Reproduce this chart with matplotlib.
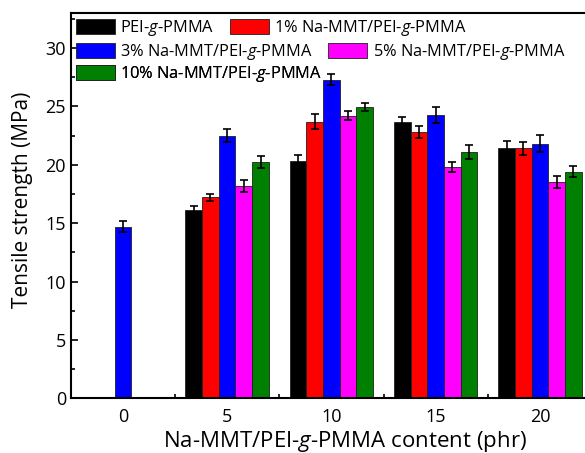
import numpy as np
import matplotlib
matplotlib.use('Agg')
import matplotlib.pyplot as plt
from matplotlib.ticker import MultipleLocator

plt.rcParams['font.family'] = ['Open Sans', 'DejaVu Sans']
plt.rcParams['mathtext.fontset'] = 'custom'
plt.rcParams['mathtext.rm'] = 'Open Sans'
plt.rcParams['mathtext.it'] = 'Open Sans:italic'

## DATA
content = ['0', '5', '10', '15', '20']
series = ['PEI-$g$-PMMA', '1% Na-MMT/PEI-$g$-PMMA', '3% Na-MMT/PEI-$g$-PMMA',
          '5% Na-MMT/PEI-$g$-PMMA', '10% Na-MMT/PEI-$g$-PMMA']
colors = ['#000000', '#ff0000', '#0000ff', '#ff00ff', '#008000']

# NaN = no bar at 0 phr (only one sample there)
pei = [np.nan, 16.1, 20.3, 23.7, 21.4]
mmt1 = [np.nan, 17.2, 23.7, 22.8, 21.4]
mmt3 = [14.7, 22.5, 27.3, 24.25, 21.8]
mmt5 = [np.nan, 18.2, 24.2, 19.8, 18.5]
mmt10 = [np.nan, 20.25, 24.97, 21.1, 19.4]

pei_err = [0, 0.37, 0.5, 0.36, 0.6]
mmt1_err = [0, 0.3, 0.67, 0.5, 0.57]
mmt3_err = [0.47, 0.55, 0.45, 0.7, 0.73]
mmt5_err = [0, 0.5, 0.37, 0.4, 0.51]
mmt10_err = [0, 0.5, 0.36, 0.63, 0.47]

values = [pei, mmt1, mmt3, mmt5, mmt10]
errors = [pei_err, mmt1_err, mmt3_err, mmt5_err, mmt10_err]

fig = plt.figure(figsize=(5.85, 4.53), dpi=100)
ax = fig.add_axes([0.121, 0.121, 0.891, 0.85])

x = np.arange(len(content))
width = 0.16
handles = []
for i, (vals, errs) in enumerate(zip(values, errors)):
    vals = np.array(vals, dtype=float)
    errs = np.array(errs, dtype=float)
    off = (i - 2) * width
    mask = ~np.isnan(vals)
    b = ax.bar(x[mask] + off, vals[mask], width, color=colors[i],
               edgecolor='#202020', linewidth=0.6, label=series[i], zorder=2)
    ax.errorbar(x[mask] + off, vals[mask], yerr=errs[mask], fmt='none',
                ecolor='black', elinewidth=1.2, capsize=3.2, capthick=1.2, zorder=3)
    handles.append(b)

ax.set_xlim(-0.5, 4.5)
ax.set_ylim(0, 33)
ax.set_xticks(x)
ax.set_xticklabels(content)
ax.set_xticks([0.5, 1.5, 2.5, 3.5], minor=True)
ax.yaxis.set_major_locator(MultipleLocator(5))
ax.yaxis.set_minor_locator(MultipleLocator(2.5))
ax.tick_params(axis='both', which='both', direction='in', top=False, right=False,
               labelsize=13, width=1.2, zorder=5)
ax.tick_params(which='major', length=5)
ax.tick_params(which='minor', length=3)
ax.tick_params(axis='x', pad=7)
for s in ax.spines.values():
    s.set_linewidth(1.5)
    s.set_zorder(6)

ax.set_xlabel('Na-MMT/PEI-$g$-PMMA content (phr)', fontsize=16)
ax.set_ylabel('Tensile strength (MPa)', fontsize=15)
# axes runs past the right edge of the picture, so centre label on visible part
ax.xaxis.set_label_coords(0.526, -0.081)
ax.yaxis.set_label_coords(-0.073, 0.514)

# legend laid out row by row, like the original
rows = [[0, 1], [2, 3], [4]]
row_y = [28, 52, 74]
for r, yy in zip(rows, row_y):
    leg = ax.legend([handles[k] for k in r], [series[k] for k in r], ncol=len(r),
                    loc='center left', bbox_to_anchor=(76 / 585, 1 - yy / 453),
                    bbox_transform=fig.transFigure, frameon=False, fontsize=11.8,
                    handlelength=2.35, handleheight=1.1, handletextpad=0.35,
                    columnspacing=0.95, borderpad=0, borderaxespad=0)
    ax.add_artist(leg)

fig.savefig('out.png', dpi=100)
